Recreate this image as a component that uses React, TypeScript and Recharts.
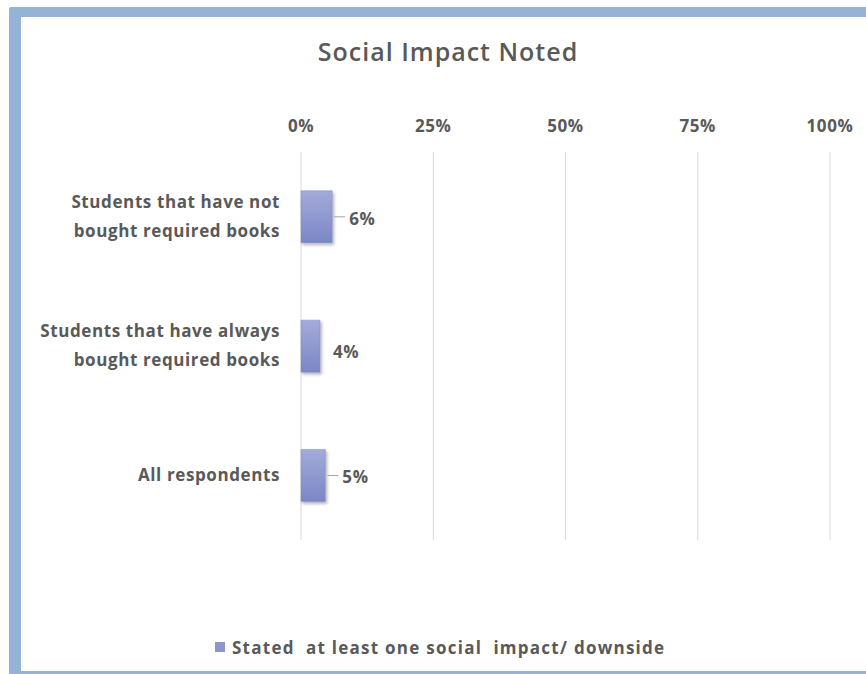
import React from "react";
import { BarChart, Bar, XAxis, YAxis, CartesianGrid, LabelList, Legend } from "recharts";

const categories = [
  "Students that have not|bought required books",
  "Students that have always|bought required books",
  "All respondents",
];
const values = [5.9, 3.6, 4.6];
const valueLabels = ["6%", "4%", "5%"];
const leaderLines = [true, false, true];
const xTicks = [0, 25, 50, 75, 100];
const seriesName = "Stated  at least one social  impact/ downside";
const title = "Social Impact Noted";

const data = categories.map((c, i) => ({
  name: c,
  value: values[i],
  label: valueLabels[i],
  leader: leaderLines[i],
}));

const FONT = "'Open Sans', sans-serif";
const TEXT = "#595959";
const FRAME = "#95b3d7";
const FS = 17;
const FW = 700;
const LS = 0.6;

const XTick = (props: any) => {
  const { x, payload } = props;
  return (
    <text x={x} y={132} textAnchor="middle" fill={TEXT} fontFamily={FONT} fontWeight={FW} fontSize={FS} letterSpacing={LS}>
      {payload.value}%
    </text>
  );
};

const YTick = (props: any) => {
  const { y, payload } = props;
  const lines = String(payload.value).split("|");
  const lh = 29;
  const start = y - ((lines.length - 1) * lh) / 2;
  return (
    <text x={280} y={start} textAnchor="end" fill={TEXT} fontFamily={FONT} fontWeight={FW} fontSize={FS} letterSpacing={LS}>
      {lines.map((l, i) => (
        <tspan key={i} x={280} y={start + i * lh} dy="0.35em">
          {l}
        </tspan>
      ))}
    </text>
  );
};

const ValueLabel = (props: any) => {
  const { x, y, width, height, index } = props;
  const d = data[index];
  const cy = y + height / 2;
  const ex = x + width;
  return (
    <g>
      {d.leader && <line x1={ex + 2} x2={ex + 13} y1={cy} y2={cy} stroke="#a6a6a6" strokeWidth={1} />}
      <text x={ex + (d.leader ? 17 : 13)} y={cy + (d.leader ? 2 : 6)} dy="0.35em" fill={TEXT} fontFamily={FONT} fontWeight={FW} fontSize={FS} letterSpacing={LS}>
        {d.label}
      </text>
    </g>
  );
};

const LegendContent = () => (
  <div style={{ display: "flex", alignItems: "center", justifyContent: "flex-start", paddingLeft: 215, height: 22 }}>
    <span style={{ display: "inline-block", width: 10, height: 10, background: "#8c96cc", marginRight: 7 }} />
    <span style={{ fontFamily: FONT, fontWeight: FW, fontSize: 17, letterSpacing: 1.25, color: TEXT, whiteSpace: "pre" }}>{seriesName}</span>
  </div>
);

export default function App() {
  return (
    <div style={{ position: "absolute", left: 0, top: 0, width: 866, height: 674, background: "#fff", overflow: "hidden" }}>
      <div style={{ position: "absolute", left: 9, top: 7, width: 857, height: 10, background: FRAME, borderTopLeftRadius: 3 }} />
      <div style={{ position: "absolute", left: 9, top: 7, width: 12, height: 667, background: FRAME, borderTopLeftRadius: 3 }} />
      <div style={{ position: "absolute", left: 9, top: 671, width: 857, height: 3, background: FRAME }} />
      <div
        style={{
          position: "absolute",
          left: 0,
          width: 896,
          top: 33,
          textAlign: "center",
          fontFamily: FONT,
          fontWeight: 600,
          fontSize: 25,
          letterSpacing: 1,
          color: TEXT,
          lineHeight: "36px",
        }}
      >
        {title}
      </div>
      <div style={{ position: "absolute", left: 0, top: 0 }}>
        <BarChart
          width={866}
          height={674}
          data={data}
          layout="vertical"
          margin={{ top: 122, right: 36, left: 0, bottom: 112 }}
          barCategoryGap="30%"
        >
          <defs>
            <linearGradient id="barGrad" x1="0" y1="0" x2="0" y2="1">
              <stop offset="0%" stopColor="#a3abd9" />
              <stop offset="100%" stopColor="#7b87c5" />
            </linearGradient>
            <filter id="barShadow" x="-20%" y="-20%" width="160%" height="160%">
              <feDropShadow dx="1.5" dy="2" stdDeviation="1.5" floodColor="#000" floodOpacity="0.3" />
            </filter>
          </defs>
          <CartesianGrid horizontal={false} stroke="#d9d9d9" />
          <XAxis
            type="number"
            orientation="top"
            domain={[0, 100]}
            ticks={xTicks}
            height={30}
            axisLine={false}
            tickLine={false}
            tick={<XTick />}
            interval={0}
          />
          <YAxis
            type="category"
            dataKey="name"
            width={301}
            axisLine={false}
            tickLine={false}
            tick={<YTick />}
            interval={0}
          />
          <Legend
            verticalAlign="bottom"
            content={<LegendContent />}
            wrapperStyle={{ position: "absolute", left: 0, top: 636, width: 866 }}
          />
          <Bar
            dataKey="value"
            name={seriesName}
            fill="url(#barGrad)"
            stroke="#7f8ac2"
            strokeWidth={0.5}
            filter="url(#barShadow)"
            isAnimationActive={false}
          >
            <LabelList dataKey="value" content={<ValueLabel />} />
          </Bar>
        </BarChart>
      </div>
    </div>
  );
}
